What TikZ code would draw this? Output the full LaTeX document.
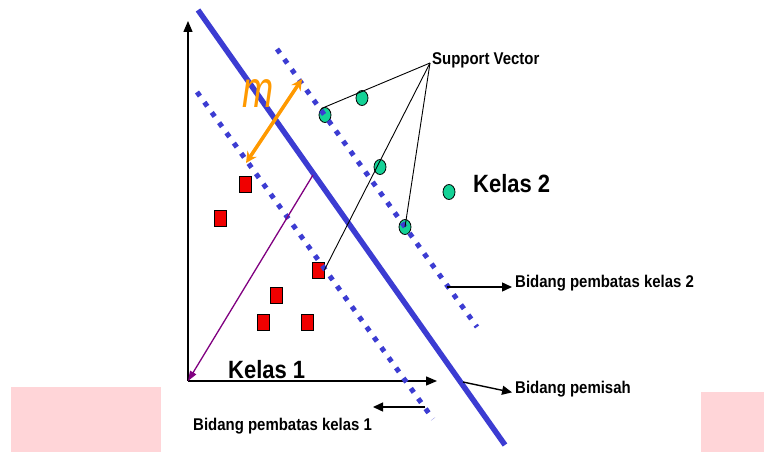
\documentclass[tikz,border=0pt]{standalone}
\usepackage{fontspec}
\usepackage{graphicx}
\usetikzlibrary{arrows.meta,shapes.geometric}
\newfontfamily\labfont[FakeStretch=0.88]{Liberation Sans}
\newfontfamily\mfont{Liberation Sans}
\definecolor{hyperblue}{RGB}{60,60,210}
\definecolor{svgreen}{RGB}{20,210,150}
\definecolor{ptred}{RGB}{240,0,0}
\definecolor{marginorange}{RGB}{255,153,0}
\definecolor{normpurple}{RGB}{128,0,128}
\definecolor{pinkpatch}{RGB}{255,213,216}
\tikzset{
  redpt/.style={draw=black, line width=0.8pt, fill=ptred, minimum width=12pt, minimum height=16pt, inner sep=0pt},
  greenpt/.style={ellipse, draw=black, line width=0.8pt, fill=svgreen, minimum width=12pt, minimum height=15pt, inner sep=0pt},
  boundary/.style={hyperblue, line width=5pt, dash pattern=on 5pt off 7.6pt},
  separator/.style={hyperblue, line width=5.5pt},
  axis/.style={black, line width=1.4pt, -{Triangle[length=11pt,width=9pt]}},
  pointer/.style={black, line width=1.4pt, -{Triangle[length=10pt,width=9pt]}},
  svline/.style={black, line width=0.9pt},
  lab/.style={font=\labfont\bfseries\fontsize{17}{20}\selectfont, inner sep=0pt},
  biglab/.style={font=\labfont\bfseries\fontsize{25}{28}\selectfont, inner sep=0pt}
}
\begin{document}
\begin{tikzpicture}[x=1pt,y=-1pt]
\useasboundingbox (0,0) rectangle (764,452);
% pink patches along the lower edge
\fill[pinkpatch] (11,387) rectangle (161,452);
\fill[pinkpatch] (701,392) rectangle (764,452);

% axes
\coordinate (O) at (188,381);
\coordinate (ytip) at (188,21);
\coordinate (xtip) at (437,381);
\draw[axis] (O) -- (ytip);
\draw[axis] (O) -- (xtip);

% class 1 points
\node[redpt] (r1) at (245,184) {};
\node[redpt] (r2) at (220,218) {};
\node[redpt] (r3) at (318,270) {};
\node[redpt] (r4) at (276,295) {};
\node[redpt] (r5) at (263,322) {};
\node[redpt] (r6) at (307,322) {};

% class 2 points
\node[greenpt] (g1) at (325,115) {};
\node[greenpt] (g2) at (362,98) {};
\node[greenpt] (g3) at (380,167) {};
\node[greenpt] (g4) at (405,227) {};
\node[greenpt] (g5) at (449,192) {};

% margin boundaries
\coordinate (b2a) at (277,49);
\coordinate (b2b) at (477,327);
\coordinate (b1a) at (197,92);
\coordinate (b1b) at (433,419);
\draw[boundary] (b2a) -- (b2b);
\draw[boundary] (b1a) -- (b1b);

% separating hyperplane
\coordinate (ha) at (198,10);
\coordinate (hb) at (505,445);
\draw[separator] (ha) -- (hb);

% normal vector
\coordinate (nfoot) at (313,175);
\draw[normpurple, line width=1.3pt, -{Triangle[length=10pt,width=7pt]}] (nfoot) -- (O);

% margin width
\coordinate (ma) at (246,163);
\coordinate (mb) at (302,79);
\draw[marginorange, line width=3.5pt, {Stealth[length=11pt,width=11pt]}-{Stealth[length=11pt,width=11pt]}] (ma) -- (mb);
\node[text=marginorange, inner sep=0pt] (mlab) at (258,94)
  {\scalebox{0.72}[1]{\mfont\itshape\fontsize{52}{52}\selectfont m}};

% support vector callout
\node[lab, anchor=base west] (svlab) at (432,65) {Support Vector};
\coordinate (sv) at (430,63);
\draw[svline] (sv) -- (g1.120);
\draw[svline] (sv) -- (r3.east);
\draw[svline] (sv) -- (g4.center);

% class labels
\node[biglab, anchor=base west] (k2) at (473,193) {Kelas 2};
\node[biglab, anchor=base west] (k1) at (228,378) {Kelas 1};

% plane labels
\node[lab, anchor=base west] (lb2) at (515,287) {Bidang pembatas kelas 2};
\node[lab, anchor=base west] (lh) at (515,393) {Bidang pemisah};
\node[lab, anchor=base west] (lb1) at (193,430) {Bidang pembatas kelas 1};
\coordinate (p2) at (447,287);
\coordinate (ph) at (463,382);
\coordinate (p1) at (425,407);
\coordinate (p1end) at (373,407);
\draw[pointer, shorten >=3pt] (p2) -- (lb2.base west);
\draw[pointer, shorten >=3pt] (ph) -- (lh.base west);
\draw[pointer] (p1) -- (p1end);
\end{tikzpicture}
\end{document}
